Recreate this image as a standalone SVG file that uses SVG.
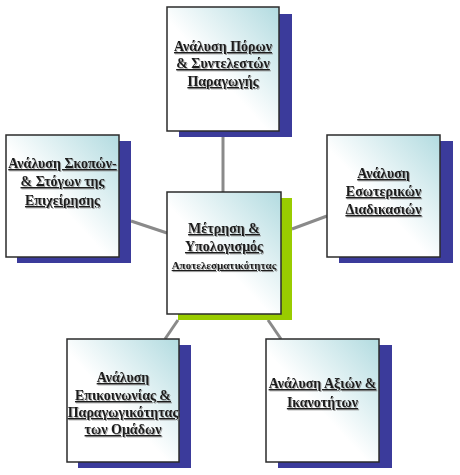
<svg xmlns="http://www.w3.org/2000/svg" width="460" height="475" viewBox="0 0 460 475">
<defs>
<linearGradient id="g" x1="0" y1="1" x2="1" y2="0">
<stop offset="0" stop-color="#ffffff"/>
<stop offset="0.45" stop-color="#ffffff"/>
<stop offset="1" stop-color="#b2dbe0"/>
</linearGradient>
<filter id="ts" x="-10%" y="-30%" width="130%" height="180%">
<feDropShadow dx="1" dy="1" stdDeviation="0.4" flood-color="#808080" flood-opacity="0.7"/>
</filter>
</defs>
<style>
.box{fill:url(#g);stroke:#2b2b2b;stroke-width:1.5}
.sb{fill:#3b3b9b}
.sg{fill:#99cc00}
.c{stroke:#8a8a8a;stroke-width:3;fill:none}
text{font-family:"Liberation Serif","Times New Roman",serif;font-size:14px;font-weight:bold;fill:#1a1a1a;text-anchor:middle;text-decoration:underline;filter:url(#ts)}
.sm{font-size:11px}
</style>
<rect width="460" height="475" fill="#ffffff"/>
<g id="connectors">
<line class="c" x1="223" y1="137" x2="223" y2="192"/>
<line class="c" x1="131" y1="221" x2="167" y2="233"/>
<line class="c" x1="292" y1="229" x2="327" y2="216"/>
<line class="c" x1="178" y1="320" x2="165" y2="339"/>
<line class="c" x1="268" y1="320" x2="281" y2="339"/>
</g>
<g id="n-top">
<rect class="sb" x="179" y="14" width="113" height="123"/>
<rect class="box" x="167" y="7" width="112" height="124"/>
<text x="223" y="51">Ανάλυση Πόρων</text>
<text x="223" y="68">&amp; Συντελεστών</text>
<text x="223" y="86">Παραγωγής</text>
</g>
<g id="n-center">
<rect class="sg" x="178" y="198" width="114" height="122"/>
<rect class="box" x="167" y="192" width="114" height="122"/>
<text x="224" y="233">Μέτρηση &amp;</text>
<text x="224" y="251">Υπολογισμός</text>
<text class="sm" x="224" y="269">Αποτελεσματικότητας</text>
</g>
<g id="n-left">
<rect class="sb" x="17" y="141" width="114" height="122"/>
<rect class="box" x="6" y="135" width="113" height="122"/>
<text x="62.5" y="168">Ανάλυση Σκοπών-</text>
<text x="62.5" y="186">&amp; Στόγων της</text>
<text x="62.5" y="205">Επιχείρησης</text>
</g>
<g id="n-right">
<rect class="sb" x="339" y="141" width="114" height="122"/>
<rect class="box" x="327" y="135" width="113" height="122"/>
<text x="383.5" y="178">Ανάλυση</text>
<text x="383.5" y="196">Εσωτερικών</text>
<text x="383.5" y="214">Διαδικασιών</text>
</g>
<g id="n-bl">
<rect class="sb" x="78" y="345" width="113" height="123"/>
<rect class="box" x="67" y="339" width="112" height="123"/>
<text x="123" y="382">Ανάλυση</text>
<text x="123" y="400">Επικοινωνίας &amp;</text>
<text x="123" y="417">Παραγωγικότητας</text>
<text x="123" y="434">των Ομάδων</text>
</g>
<g id="n-br">
<rect class="sb" x="278" y="345" width="114" height="123"/>
<rect class="box" x="266" y="339" width="113" height="123"/>
<text x="322.5" y="388">Ανάλυση Αξιών &amp;</text>
<text x="322.5" y="407">Ικανοτήτων</text>
</g>
</svg>
